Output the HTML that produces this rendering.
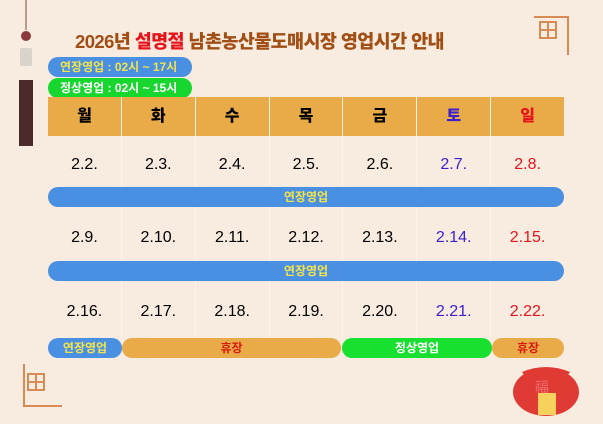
<!DOCTYPE html><html><head><meta charset="utf-8"><style>
body{margin:0;width:603px;height:424px;background:#f8ebdf;position:relative;overflow:hidden;font-family:"Liberation Sans","Noto Sans CJK KR",sans-serif}
.a{position:absolute}
.t{left:75px;top:28px;white-space:nowrap;font-size:18.5px;font-weight:900;color:#a24f16;letter-spacing:-0.6px}
.pill{border-radius:11px;font-size:12px;font-weight:bold;color:#fff;padding-left:12px;box-sizing:border-box;line-height:20px}
.row{position:absolute;left:48px;width:516px;display:flex}
.row div{flex:1;text-align:center;border-left:1px solid #fff3e8;box-sizing:border-box}
.row div:first-child{border-left:none}
.h{background:#e8ab48;font-weight:900;font-size:16px;line-height:39px;height:39px}
.d{font-size:16px}
.bar{border-radius:10px;text-align:center;font-size:12px;font-weight:bold;line-height:20px}
.s{color:#3b1fd0}.u{color:#e8141c}
</style></head><body>
<div class="a t">2026년 <span style="color:#e8141c">설명절</span> 남촌농산물도매시장 영업시간 안내</div>
<div class="a pill" style="left:48px;top:57px;width:144px;height:20px;background:#4a90e2;color:#f3e34a">연장영업 : 02시 ~ 17시</div>
<div class="a pill" style="left:48px;top:78px;width:144px;height:20px;background:#17d62e">정상영업 : 02시 ~ 15시</div>
<div class="row h" style="top:97px"><div>월</div><div>화</div><div>수</div><div>목</div><div>금</div><div class="s">토</div><div class="u">일</div></div>
<div class="row d" style="top:136px;height:51px;line-height:58px"><div>2.2.</div><div>2.3.</div><div>2.4.</div><div>2.5.</div><div>2.6.</div><div class="s">2.7.</div><div class="u">2.8.</div></div>
<div class="row d" style="top:207px;height:54px;line-height:62px"><div>2.9.</div><div>2.10.</div><div>2.11.</div><div>2.12.</div><div>2.13.</div><div class="s">2.14.</div><div class="u">2.15.</div></div>
<div class="row d" style="top:281px;height:57px;line-height:62px"><div>2.16.</div><div>2.17.</div><div>2.18.</div><div>2.19.</div><div>2.20.</div><div class="s">2.21.</div><div class="u">2.22.</div></div>
<div class="a bar" style="left:48px;top:187px;width:516px;height:20px;background:#4a90e2;color:#f3e34a">연장영업</div>
<div class="a bar" style="left:48px;top:261px;width:516px;height:20px;background:#4a90e2;color:#f3e34a">연장영업</div>
<div class="a bar" style="left:48px;top:338px;width:74px;height:20px;background:#4a90e2;color:#f3e34a">연장영업</div>
<div class="a bar" style="left:122px;top:338px;width:219px;height:20px;background:#e8ab48;color:#d81b10">휴장</div>
<div class="a bar" style="left:342px;top:338px;width:150px;height:20px;background:#17e02e;color:#fff">정상영업</div>
<div class="a bar" style="left:492px;top:338px;width:72px;height:20px;background:#e8ab48;color:#d81b10">휴장</div>
<svg class="a" style="left:0;top:0" width="603" height="424">
<line x1="26" y1="0" x2="26" y2="30" stroke="#7a4a3a"/>
<circle cx="26" cy="36" r="5" fill="#8a3a3a"/>
<rect x="20" y="48" width="12" height="18" rx="2" fill="#d8d4cc"/>
<rect x="19" y="80" width="14" height="66" fill="#4a2a2a"/>
<path d="M534 17h34v38M540 22h16v16h-16zM548 22v16M540 30h16" stroke="#d98b55" stroke-width="2" fill="none"/>
<path d="M24 364v42h38M28 374h16v16h-16zM36 374v16M28 382h16" stroke="#d98b55" stroke-width="2" fill="none"/>
<ellipse cx="546" cy="392" rx="33" ry="24" fill="#e03a35"/>
<rect x="538" y="393" width="18" height="22" fill="#f7d15c"/>
<path d="M522 372q24 -10 48 0l-6 8h-36z" fill="#e03a35"/>
<text x="535" y="392" font-size="14" fill="#f07070" font-family="Noto Sans CJK KR">福</text>
</svg>
</body></html>
